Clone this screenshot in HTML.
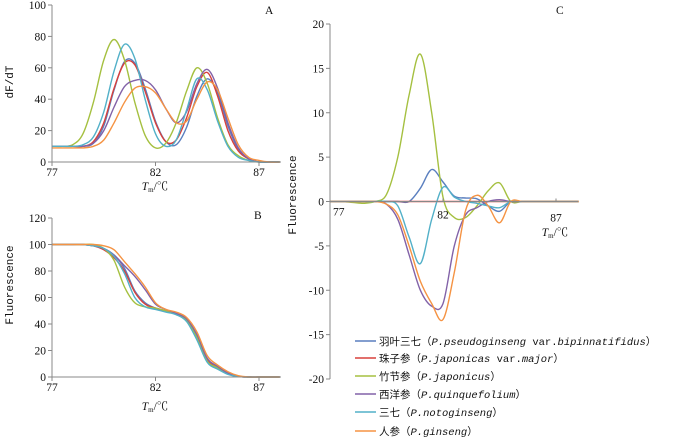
<!DOCTYPE html>
<html><head><meta charset="utf-8">
<style>
body{margin:0;background:#fff;}
svg{display:block;font-family:"Liberation Serif","Noto Serif CJK SC",serif;}
.t{font-size:11.5px;fill:#111;}
.m{font-family:"Liberation Mono","Noto Sans CJK SC",monospace;font-size:11px;fill:#111;}
.lg{font-family:"Liberation Mono","Noto Sans CJK SC",monospace;font-size:10.5px;fill:#111;}
</style></head>
<body>
<svg id="chart" width="700" height="439"></svg>
<script>
const temps=[77,77.5,78,78.5,79,79.5,80,80.5,81,81.5,82,82.5,83,83.5,84,84.5,85,85.5,86,86.5,87,87.5,88];
const seriesNames=["羽叶三七","珠子参","竹节参","西洋参","三七","人参"];
const seriesLatin=["P.pseudoginseng var.bipinnatifidus","P.japonicas var.major","P.japonicus","P.quinquefolium","P.notoginseng","P.ginseng"];
const seriesKeys=["blue","red","green","purple","cyan","orange"];
const colors=["#5a7fbf","#d8403c","#a5c040","#8262a8","#52b0c8","#f59343"];
// Panel A: dF/dT
const aBlue  =[10,10,10,10,12,23,46,64,63,47,26,13,11,22,42,53,44,23,8,2,0,0,0];
const aRed   =[10,10,10,10,13,25,47,63,62,45,25,13,14,28,48,57,42,20,7,2,0,0,0];
const aGreen =[10,10,11,18,38,65,78,65,38,17,9,12,25,45,60,50,28,11,4,1,0,0,0];
const aPurple=[10,10,10,10,12,20,35,48,52,52,46,34,25,32,50,59,47,25,9,2,0,0,0];
const aCyan  =[10,10,10,11,16,32,58,75,66,40,18,10,14,33,53,46,26,10,3,1,0,0,0];
const aOrange=[9,9,9,9,10,14,25,38,47,48,44,34,25,26,40,51,46,28,11,3,1,0,0];
// Panel B: normalized fluorescence
const bBlue  =[100,100,100,100,99,97,92,82,65,56,52,50,48,43,30,12,7,3,0.5,0,0,0,0];
const bRed   =[100,100,100,100,99,96,90,80,64,55,52,50,48,43,31,13,7,3,0.5,0,0,0,0];
const bGreen =[100,100,100,100,100,97,88,68,56,53,52,50,48,43,30,12,7,3,0.5,0,0,0,0];
const bPurple=[100,100,100,100,99,97,92,84,76,66,55,51,48,44,32,14,8,3,0.5,0,0,0,0];
const bCyan  =[100,100,100,100,99,97,91,78,60,53,51,49,47,42,28,11,6,2,0.3,0,0,0,0];
const bOrange=[100,100,100,100,100,99,96,87,78,68,56,51,49,45,34,16,9,4,1,0,0,0,0];
// Panel C: difference curves
const cBlue  =[0,0,0,0,0,0,0,0,1.5,3.6,2.2,0.6,0.4,0.3,-0.5,-1.1,0,0,0,0,0,0,0];
const cRed   =[0,0,0,0,0,0,0,0,0,0,0,0,0,0,0,0,0,0,0,0,0,0,0];
const cGreen =[0,0,-0.1,-0.2,0,0.8,5,12,16.6,10,0.5,-1.8,-1.8,-0.5,1.2,2.1,0,0,0,0,0,0,0];
const cPurple=[0,0,0,0,0,-0.3,-2,-6,-10,-11.8,-11.5,-5,-1.5,-0.7,0,0.2,0,0,0,0,0,0,0];
const cCyan  =[0,0,0,0,0,0,-0.5,-4,-7,-2,1.6,0.5,0,-0.2,-0.5,-0.7,0,0,0,0,0,0,0];
const cOrange=[0,0,0,0,0,-0.3,-1.5,-5,-9,-11.5,-13.3,-8,-1,0.7,-0.5,-2.4,0,0,0,0,0,0,0];
const aTicks=[0,20,40,60,80,100], bTicks=[0,20,40,60,80,100,120], cTicks=[-20,-15,-10,-5,0,5,10,15,20];
const xTicks=[77,82,87];

const NS="http://www.w3.org/2000/svg";
const svg=document.getElementById('chart');
function mk(tag,attrs,parent,text){const e=document.createElementNS(NS,tag);for(const k in attrs)e.setAttribute(k,attrs[k]);if(text!==undefined)e.textContent=text;(parent||svg).appendChild(e);return e;}
function path(pts){let d=`M${pts[0][0].toFixed(1)},${pts[0][1].toFixed(1)}`;
 for(let i=0;i<pts.length-1;i++){const p0=pts[Math.max(0,i-1)],p1=pts[i],p2=pts[i+1],p3=pts[Math.min(pts.length-1,i+2)];
  const c1=[p1[0]+(p2[0]-p0[0])/6,p1[1]+(p2[1]-p0[1])/6],c2=[p2[0]-(p3[0]-p1[0])/6,p2[1]-(p3[1]-p1[1])/6];
  d+=`C${c1[0].toFixed(1)},${c1[1].toFixed(1)} ${c2[0].toFixed(1)},${c2[1].toFixed(1)} ${p2[0].toFixed(1)},${p2[1].toFixed(1)}`;}
 return d;}
function panel(cfg){
 const g=mk('g',{});
 
 
 const xs=t=>cfg.x0+(t-77)*cfg.kx;
 const ys=v=>cfg.y0-(v-cfg.vmin)*cfg.ky;
 const zeroY=ys(cfg.xAxisAt);
 cfg.series.forEach((s,i)=>{const p=mk('path',{d:path(temps.map((t,j)=>[xs(t),ys(s[j])])),fill:'none',stroke:colors[i],'stroke-width':1.4},g);
  
  });
 const ya=mk('line',{x1:cfg.x0,x2:cfg.x0,y1:ys(cfg.vmax),y2:ys(cfg.vmin),stroke:'#888','stroke-width':1},g);
 
 const xa=mk('line',{x1:cfg.x0,x2:cfg.xEnd,y1:zeroY,y2:zeroY,stroke:'#888','stroke-width':1},g);
 
 cfg.yt.forEach(v=>{mk('line',{x1:cfg.x0-4,x2:cfg.x0,y1:ys(v),y2:ys(v),stroke:'#888'},g);
  const t=mk('text',{x:cfg.x0-6,y:ys(v)+4,'text-anchor':'end',class:'t'},g,String(v));
  });
 xTicks.forEach((v,i)=>{mk('line',{x1:xs(v),x2:xs(v),y1:zeroY,y2:zeroY+(cfg.tickDown?4:-3),stroke:'#888'},g);
  const o=cfg.xlab[i];
  const t=mk('text',{x:xs(v)+o[0],y:zeroY+o[1],'text-anchor':o[2]||'middle',class:'t'},g,String(v));
  });
 const tm=mk('text',{x:cfg.tm[0],y:cfg.tm[1],'text-anchor':'middle',class:'t'},g);
 
 mk('tspan',{'font-style':'italic'},tm,'T');mk('tspan',{'font-size':'7px',dy:2},tm,'m');mk('tspan',{dy:-2},tm,'/℃');
 const yt=mk('text',{x:0,y:0,transform:`translate(${cfg.ytl[0]},${cfg.ytl[1]}) rotate(-90)`,'text-anchor':'middle',class:'m'},g,cfg.ytitle);
 
 const lt=mk('text',{x:cfg.lab[0],y:cfg.lab[1],class:'t'},g,cfg.letter);
 
}
panel({name:'panel-a',x0:52,kx:20.7,xEnd:281,y0:162,vmin:0,vmax:100,ky:1.57,xAxisAt:0,series:[aBlue,aRed,aGreen,aPurple,aCyan,aOrange],yt:aTicks,xlab:[[0,14],[0,14],[0,14]],tickDown:true,tm:[155,190],ytitle:'dF/dT',ytl:[13,82],letter:'A',lab:[265,14]});
panel({name:'panel-b',x0:52,kx:20.7,xEnd:281,y0:377,vmin:0,vmax:120,ky:1.325,xAxisAt:0,series:[bBlue,bRed,bGreen,bPurple,bCyan,bOrange],yt:bTicks,xlab:[[0,14],[0,14],[0,14]],tickDown:true,tm:[155,410],ytitle:'Fluorescence',ytl:[13,285],letter:'B',lab:[254,219]});
panel({name:'panel-c',x0:330,kx:22.6,xEnd:578,y0:379,vmin:-20,vmax:20,ky:8.875,xAxisAt:0,series:[cBlue,cRed,cGreen,cPurple,cCyan,cOrange],yt:cTicks,xlab:[[3,14,'start'],[0,17],[0,20]],tickDown:false,tm:[555,236],ytitle:'Fluorescence',ytl:[296,195],letter:'C',lab:[556,14]});
const lg=mk('g',{});


const rowsY=[341,358,376,394,412,431];
seriesNames.forEach((n,i)=>{const y=rowsY[i];
 const ge=mk('g',{},lg);
 
 
 mk('line',{x1:355,x2:376,y1:y,y2:y,stroke:colors[i],'stroke-width':1.6},ge);
 const t=mk('text',{x:379,y:y+4,class:'lg'},ge,n+'（');
 const parts=seriesLatin[i].split(' ');
 parts.forEach((p,k)=>{if(p.startsWith('var.')){mk('tspan',{},t,' var.');mk('tspan',{'font-style':'italic'},t,p.slice(4));}
  else mk('tspan',{'font-style':'italic'},t,p);});
 mk('tspan',{},t,'）');});
</script>
</body></html>
